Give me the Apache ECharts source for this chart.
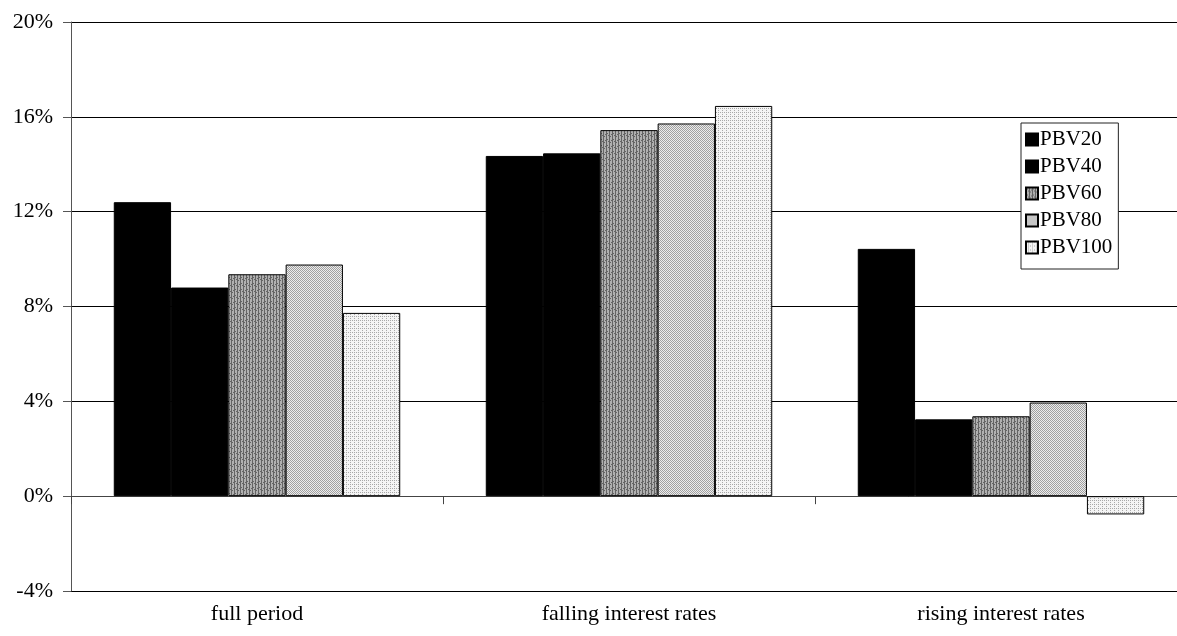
<!DOCTYPE html>
<html>
<head>
<meta charset="utf-8">
<script src="https://cdn.jsdelivr.net/npm/echarts@6/dist/echarts.min.js"></script>
<style>
  html, body { margin: 0; padding: 0; background: #fff; overflow: hidden; width: 1177px; height: 636px; }
  /* the plot runs a few pixels past the right edge of the window */
  #chart { width: 1187px; height: 636px; }
</style>
</head>
<body>
<div id="chart"></div>
<script>
// Average return by portfolio, in percent
const categories = ['full period', 'falling interest rates', 'rising interest rates'];
const seriesNames = ['PBV20', 'PBV40', 'PBV60', 'PBV80', 'PBV100'];
const pbv20 = [12.4, 14.35, 10.43];
const pbv40 = [8.8, 14.46, 3.24];
const pbv60 = [9.36, 15.44, 3.37];
const pbv80 = [9.77, 15.72, 3.95];
const pbv100 = [7.73, 16.46, -0.77];
const yTicks = { min: -4, max: 20, step: 4 };

const FONT = '"Liberation Serif", "DejaVu Serif", serif';

// Small tiled fills that imitate the printed hatching of each bar
function makePattern(size, painter) {
  const c = document.createElement('canvas');
  c.width = size; c.height = size;
  const ctx = c.getContext('2d');
  painter(ctx, size);
  return c;
}
const fillPBV60 = makePattern(6, (ctx) => {
  ctx.fillStyle = '#b0b0b0'; ctx.fillRect(0, 0, 6, 6);
  ctx.fillStyle = '#646464';
  ctx.fillRect(0, 0, 1, 6); ctx.fillRect(3, 0, 1, 6);
  ctx.fillRect(1, 1, 1, 1); ctx.fillRect(4, 4, 1, 1);
  ctx.fillRect(2, 3, 1, 1); ctx.fillRect(5, 2, 1, 1);
});
const fillPBV80 = makePattern(4, (ctx) => {
  ctx.fillStyle = '#ececec'; ctx.fillRect(0, 0, 4, 4);
  ctx.fillStyle = '#a0a0a0';
  ctx.fillRect(0, 0, 1, 1); ctx.fillRect(2, 0, 1, 1);
  ctx.fillRect(1, 1, 1, 1); ctx.fillRect(3, 1, 1, 1);
  ctx.fillRect(0, 2, 1, 1); ctx.fillRect(2, 2, 1, 1);
  ctx.fillRect(1, 3, 1, 1); ctx.fillRect(3, 3, 1, 1);
});
const fillPBV100 = makePattern(4, (ctx) => {
  ctx.fillStyle = '#f4f4f4'; ctx.fillRect(0, 0, 4, 4);
  ctx.fillStyle = '#a8a8a8';
  ctx.fillRect(0, 0, 1, 1); ctx.fillRect(2, 2, 1, 1);
  ctx.fillRect(2, 0, 1, 1);
});

const fills = [
  '#000000',
  '#000000',
  { image: fillPBV60, repeat: 'repeat' },
  { image: fillPBV80, repeat: 'repeat' },
  { image: fillPBV100, repeat: 'repeat' }
];
const values = [pbv20, pbv40, pbv60, pbv80, pbv100];

const chart = echarts.init(document.getElementById('chart'), null, { renderer: 'canvas' });

const option = {
  animation: false,
  backgroundColor: '#ffffff',
  grid: { left: 71, right: 0, top: 22, bottom: 45, containLabel: false },
  legend: {
    orient: 'vertical',
    left: 1021,
    top: 123,
    itemWidth: 12,
    itemGap: 6,
    itemHeight: 12,
    padding: [6, 6, 11, 4],
    backgroundColor: '#ffffff',
    borderColor: '#222',
    borderWidth: 1,
    icon: 'rect',
    textStyle: { fontFamily: FONT, fontSize: 21, color: '#000', lineHeight: 20, padding: [0, 0, 0, -3] },
    data: seriesNames
  },
  xAxis: [
    {
      type: 'category',
      data: categories,
      position: 'bottom',
      axisLine: { show: false, onZero: false },
      axisTick: { show: false },
      axisLabel: { fontFamily: FONT, fontSize: 22, color: '#000', margin: 12 },
      splitLine: { show: false }
    },
    {
      type: 'category',
      data: categories,
      position: 'bottom',
      axisLine: { show: true, onZero: true, lineStyle: { color: '#444', width: 1 } },
      axisTick: { show: true, length: 8, lineStyle: { color: '#444' } },
      axisLabel: { show: false },
      splitLine: { show: false }
    }
  ],
  yAxis: {
    type: 'value',
    min: yTicks.min,
    max: yTicks.max,
    interval: yTicks.step,
    axisLine: { show: true, lineStyle: { color: '#555', width: 1 } },
    axisTick: { show: true, length: 8, lineStyle: { color: '#555' } },
    axisLabel: { formatter: '{value}%', fontFamily: FONT, fontSize: 22, color: '#000', margin: 18 },
    splitLine: { show: true, lineStyle: { color: '#000', width: 1 } }
  },
  series: seriesNames.map((name, i) => ({
    name: name,
    type: 'bar',
    xAxisIndex: 0,
    data: values[i],
    barGap: '0%',
    barCategoryGap: '23%',
    itemStyle: { color: fills[i], borderColor: '#000', borderWidth: 1 }
  }))
};

chart.setOption(option);
</script>
</body>
</html>
